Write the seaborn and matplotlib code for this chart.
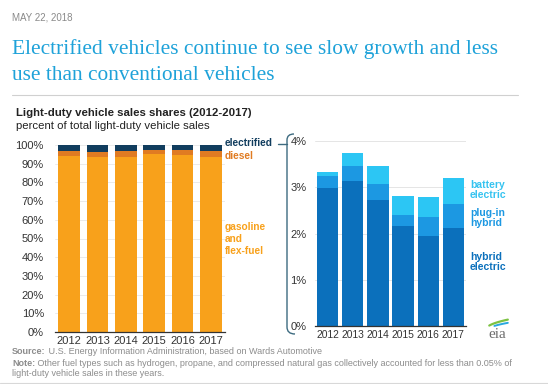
import numpy as np
import matplotlib
matplotlib.use("Agg")
import matplotlib.pyplot as plt
import seaborn as sns
from matplotlib.lines import Line2D
from matplotlib.path import Path
from matplotlib.patches import PathPatch

# =========================================
# DATA
# =========================================

years = ["2012", "2013", "2014", "2015", "2016", "2017"]

# right panel, percent of light-duty sales
hybrid = [2.98, 3.14, 2.72, 2.17, 1.95, 2.11]
plugin = [0.27, 0.32, 0.36, 0.24, 0.41, 0.52]
battery = [0.09, 0.29, 0.39, 0.41, 0.44, 0.58]

# left panel
diesel = [2.7, 2.8, 2.8, 2.1, 2.5, 3.4]

electrified = np.array(hybrid) + np.array(plugin) + np.array(battery)
gasoline = 100 - electrified - np.array(diesel)

# =========================================
# STYLE
# =========================================

sns.set_style("white")
plt.rcParams["font.family"] = ["Liberation Sans", "DejaVu Sans"]

W, H = 548, 384
fig = plt.figure(figsize=(W / 100, H / 100), dpi=100)


def px(x, y):
    return x / W, 1 - y / H


def ax_rect(x0, y0, x1, y1):
    return [x0 / W, 1 - y1 / H, (x1 - x0) / W, (y1 - y0) / H]


grey_txt = "#333333"

# =========================================
# HEADER
# =========================================

fig.text(*px(12, 18), "MAY 22, 2018", fontsize=7, color="#8a8a8a", va="center")
fig.text(*px(12, 49), "Electrified vehicles continue to see slow growth and less",
         family=["Liberation Serif"], fontsize=15.4, color="#1ea2d9", va="center")
fig.text(*px(12, 76), "use than conventional vehicles",
         family=["Liberation Serif"], fontsize=15.4, color="#1ea2d9", va="center")
fig.add_artist(Line2D([12 / W, 518 / W], [1 - 95 / H] * 2, color="#d0d0d0", lw=0.8))

fig.text(*px(16, 113), "Light-duty vehicle sales shares (2012-2017)",
         fontsize=8.2, fontweight="bold", color="#222222", va="center")
fig.text(*px(16, 126), "percent of total light-duty vehicle sales",
         fontsize=8.2, color="#222222", va="center")

# =========================================
# LEFT PANEL: SALES SHARES
# =========================================

c_gas = "#f8a11b"
c_diesel = "#e07b22"
c_elec = "#113d5e"

bar_kw = dict(saturation=1, linewidth=0, edgecolor="none")

ax1 = fig.add_axes(ax_rect(55, 145, 225, 332))
sns.barplot(x=years, y=gasoline + np.array(diesel) + electrified, color=c_elec,
            width=0.77, ax=ax1, **bar_kw)
sns.barplot(x=years, y=gasoline + np.array(diesel), color=c_diesel,
            width=0.77, ax=ax1, **bar_kw)
sns.barplot(x=years, y=gasoline, color=c_gas, width=0.77, ax=ax1, **bar_kw)

ax1.set_ylim(0, 100)
ax1.set_yticks(range(0, 101, 10))
ax1.set_yticklabels([f"{v}%" for v in range(0, 101, 10)])
ax1.yaxis.grid(True, color="#e8e8e8", lw=0.6)
ax1.set_axisbelow(True)

# =========================================
# RIGHT PANEL: ELECTRIFIED DETAIL
# =========================================

c_hyb = "#0b70bc"
c_plug = "#1c98e2"
c_bat = "#2cc6f4"

ax2 = fig.add_axes(ax_rect(315, 141, 466, 326))
sns.barplot(x=years, y=electrified, color=c_bat, width=0.85, ax=ax2, **bar_kw)
sns.barplot(x=years, y=np.array(hybrid) + np.array(plugin), color=c_plug,
            width=0.85, ax=ax2, **bar_kw)
sns.barplot(x=years, y=hybrid, color=c_hyb, width=0.85, ax=ax2, **bar_kw)

ax2.set_ylim(0, 4)
ax2.set_yticks(range(0, 5))
ax2.set_yticklabels([f"{v}%" for v in range(0, 5)])
ax2.yaxis.grid(True, color="#e0e0e0", lw=0.6)
ax2.set_axisbelow(True)

for ax, xs in [(ax1, 8), (ax2, 7.4)]:
    for side in ["top", "right", "left"]:
        ax.spines[side].set_visible(False)
    ax.spines["bottom"].set_color("#333333")
    ax.spines["bottom"].set_linewidth(0.9)
    ax.set_xlabel("")
    ax.set_ylabel("")
    ax.tick_params(axis="both", length=0, colors=grey_txt)
    ax.tick_params(axis="y", labelsize=8, pad=8)
    ax.tick_params(axis="x", labelsize=xs, pad=3)

ax2.tick_params(axis="y", pad=6)

# =========================================
# LABELS
# =========================================

fig.text(*px(225, 143), "electrified", fontsize=7.3, fontweight="bold",
         color=c_elec, va="center")
fig.text(*px(225, 156), "diesel", fontsize=7.3, fontweight="bold",
         color=c_diesel, va="center")
fig.text(*px(225, 239), "gasoline\nand\nflex-fuel", fontsize=7.3, fontweight="bold",
         color=c_gas, va="center", linespacing=1.3)

fig.text(*px(470, 190), "battery\nelectric", fontsize=7.5, fontweight="bold",
         color="#35c3f0", va="center", linespacing=1.1)
fig.text(*px(470, 218), "plug-in\nhybrid", fontsize=7.5, fontweight="bold",
         color=c_plug, va="center", linespacing=1.1)
fig.text(*px(470, 262), "hybrid\nelectric", fontsize=7.5, fontweight="bold",
         color=c_hyb, va="center", linespacing=1.1)

# bracket joining electrified to the right panel
c_br = "#3d6b80"
verts = [px(294, 134), px(287, 134), px(287, 140), px(287, 327),
         px(287, 334), px(295, 334)]
codes = [Path.MOVETO, Path.CURVE3, Path.CURVE3, Path.LINETO, Path.CURVE3, Path.CURVE3]
fig.add_artist(PathPatch(Path(verts, codes), transform=fig.transFigure,
                         fill=False, edgecolor=c_br, lw=1.0))
fig.add_artist(Line2D([278 / W, 287 / W], [1 - 144 / H] * 2, color=c_br, lw=1.0))

# eia logo
fig.text(*px(488, 335), "eia", family=["Liberation Serif"], fontsize=11,
         color="#6d6d6d", va="center")
lg = fig.add_axes(ax_rect(486, 318, 510, 332))
t = np.linspace(0.15, 1.0, 30)
lg.plot(t, 0.2 + 0.9 * np.sqrt(t) - 0.25, color="#7cc242", lw=1.6)
lg.plot(t[8:], 0.05 + 0.75 * np.sqrt(t[8:]) - 0.25, color="#2aa8df", lw=1.4)
lg.set_xlim(0, 1.1)
lg.set_ylim(-0.3, 1)
lg.axis("off")

# =========================================
# FOOTER
# =========================================

c_note = "#8c8c8c"
s1 = fig.text(*px(12, 352), "Source:", fontsize=6.5, fontweight="bold", color=c_note, va="center")
plt.annotate(" U.S. Energy Information Administration, based on Wards Automotive",
             xy=(1, 0.5), xycoords=s1, va="center", ha="left",
             fontsize=6.5, color=c_note, annotation_clip=False)
s2 = fig.text(*px(12, 363), "Note:", fontsize=6.5, fontweight="bold", color=c_note, va="center")
plt.annotate(" Other fuel types such as hydrogen, propane, and compressed natural gas "
             "collectively accounted for less than 0.05% of",
             xy=(1, 0.5), xycoords=s2, va="center", ha="left",
             fontsize=6.5, color=c_note, annotation_clip=False)
fig.text(*px(12, 373), "light-duty vehicle sales in these years.",
         fontsize=6.5, color=c_note, va="center")
fig.add_artist(Line2D([0, 1], [1 - 383 / H] * 2, color="#d8d8d8", lw=0.8))

fig.savefig("out.png", dpi=100)
